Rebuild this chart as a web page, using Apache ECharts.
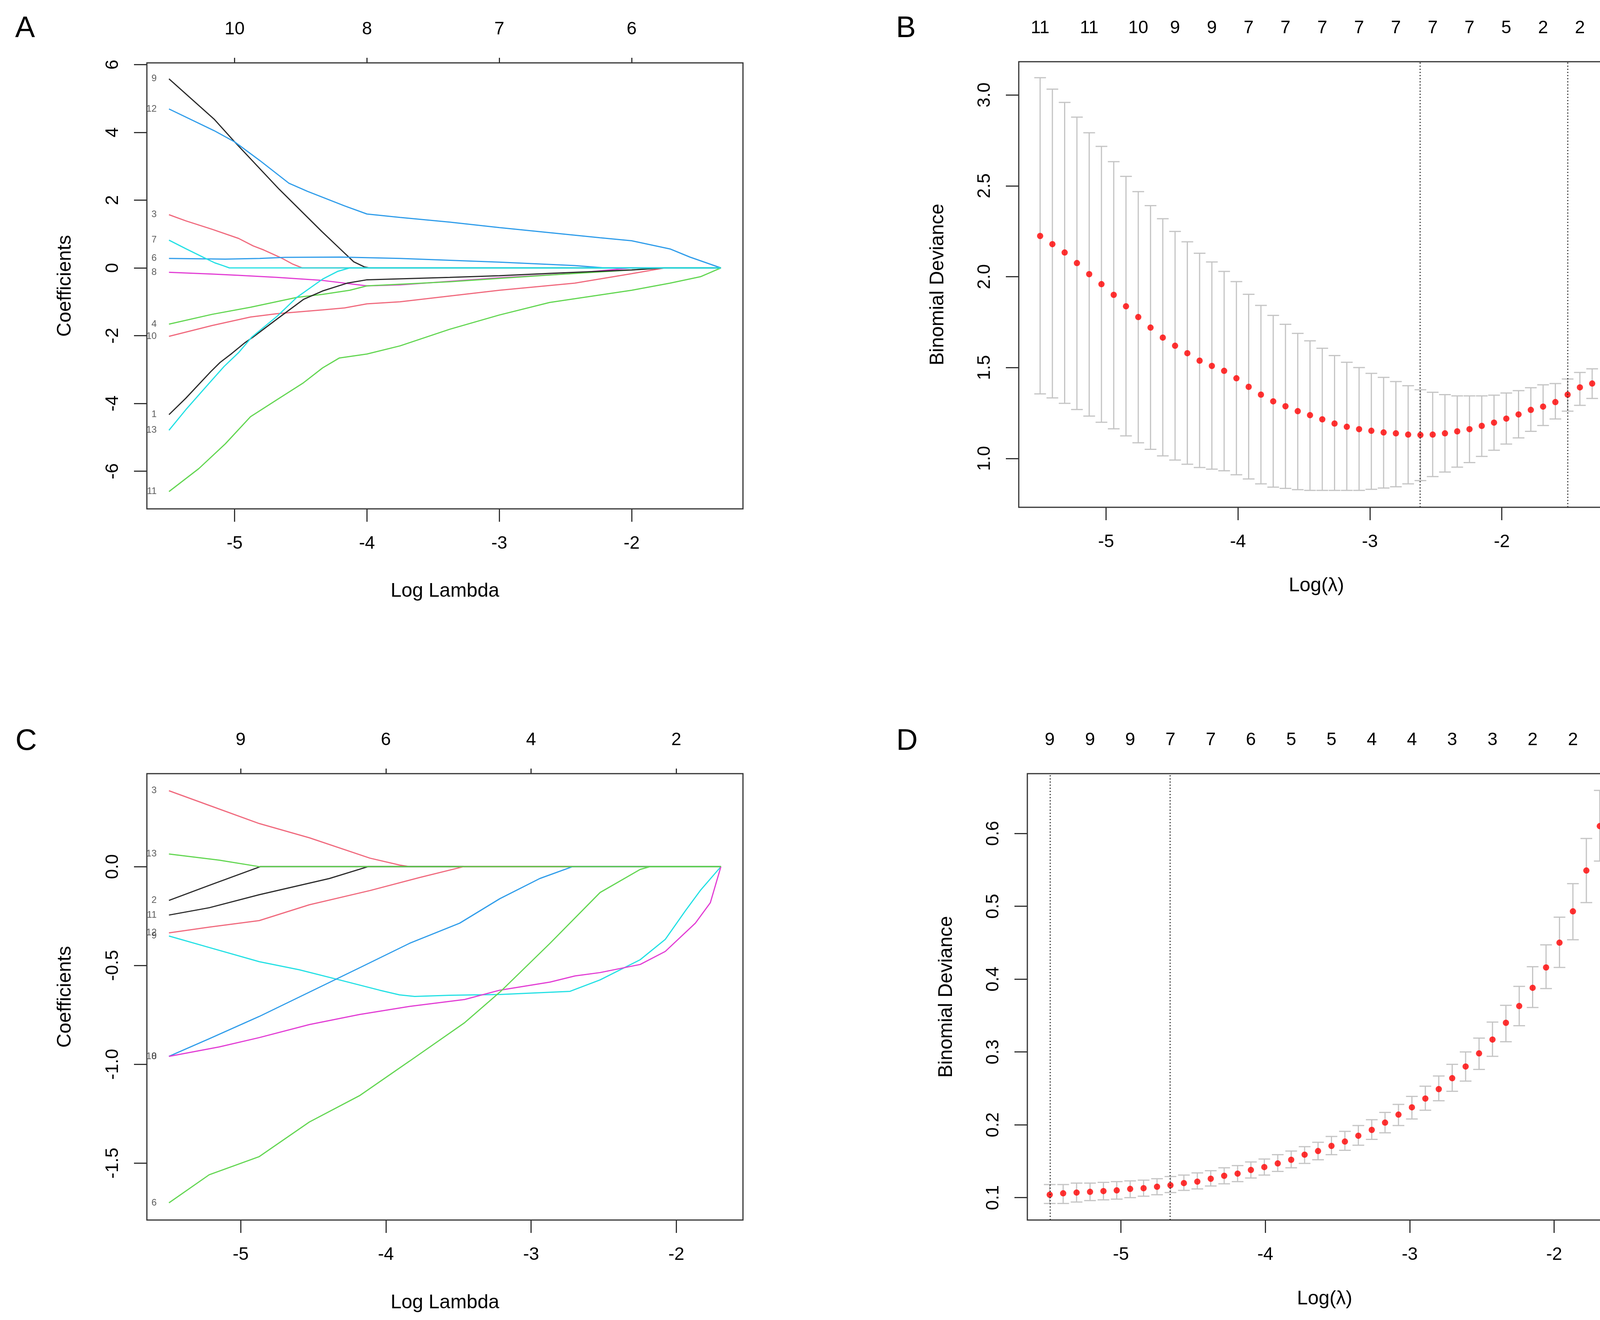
<!DOCTYPE html>
<html>
<head>
<meta charset="utf-8">
<title>LASSO</title>
<script src="https://cdn.jsdelivr.net/npm/echarts@6/dist/echarts.min.js"></script>
<style>
html, body { margin: 0; padding: 0; background: #fff; }
#main { width: 4200px; height: 3380px; }
</style>
</head>
<body>
<div id="main"></div>
<script>
// A: 系数路径 (log lambda, coef)
var a_v9  = [[-5.496,5.58],[-5.155,4.39],[-5.0,3.72],[-4.663,2.32],[-4.34,1.07],[-4.2,0.55],[-4.1,0.18],[-4.02,0.03],[-3.98,0],[-1.326,0]];
var a_v12 = [[-5.496,4.69],[-5.155,4.05],[-5.0,3.72],[-4.81,3.17],[-4.59,2.50],[-4.45,2.26],[-4.17,1.83],[-4.0,1.59],[-3.75,1.49],[-3.375,1.35],[-3.0,1.19],[-2.62,1.04],[-2.24,0.89],[-2.0,0.80],[-1.71,0.56],[-1.56,0.32],[-1.326,0]];
var a_v3  = [[-5.496,1.57],[-5.37,1.39],[-5.17,1.14],[-4.97,0.87],[-4.86,0.65],[-4.78,0.53],[-4.64,0.28],[-4.56,0.11],[-4.49,0],[-1.326,0]];
var a_v7  = [[-5.496,0.82],[-5.37,0.57],[-5.22,0.28],[-5.15,0.15],[-5.09,0.07],[-5.04,0],[-1.326,0]];
var a_v6  = [[-5.496,0.28],[-5.07,0.26],[-4.81,0.28],[-4.62,0.31],[-4.2,0.32],[-3.75,0.28],[-3.0,0.17],[-2.43,0.07],[-2.2,0],[-1.326,0]];
var a_v8  = [[-5.496,-0.13],[-5.17,-0.18],[-4.97,-0.22],[-4.68,-0.28],[-4.48,-0.33],[-4.335,-0.37],[-4.0,-0.53],[-3.75,-0.50],[-3.0,-0.29],[-2.47,-0.17],[-2.0,0],[-1.326,0]];
var a_v4  = [[-5.496,-1.66],[-5.17,-1.37],[-4.88,-1.16],[-4.53,-0.87],[-4.335,-0.78],[-4.13,-0.66],[-4.0,-0.53],[-3.375,-0.41],[-2.62,-0.21],[-2.0,-0.06],[-1.78,0],[-1.326,0]];
var a_v10 = [[-5.496,-2.02],[-5.17,-1.70],[-4.88,-1.45],[-4.68,-1.35],[-4.335,-1.24],[-4.17,-1.18],[-4.0,-1.06],[-3.75,-1.0],[-3.0,-0.66],[-2.43,-0.45],[-2.0,-0.17],[-1.75,0],[-1.326,0]];
var a_v1  = [[-5.496,-4.33],[-5.37,-3.85],[-5.18,-3.06],[-5.11,-2.79],[-5.02,-2.52],[-4.92,-2.20],[-4.86,-2.04],[-4.68,-1.51],[-4.48,-0.93],[-4.335,-0.68],[-4.15,-0.45],[-4.0,-0.35],[-3.375,-0.28],[-3.0,-0.23],[-2.62,-0.16],[-2.0,-0.06],[-1.75,0],[-1.326,0]];
var a_v13 = [[-5.496,-4.79],[-5.37,-4.19],[-5.21,-3.48],[-5.08,-2.91],[-4.97,-2.50],[-4.87,-2.04],[-4.68,-1.43],[-4.53,-0.87],[-4.335,-0.33],[-4.22,-0.1],[-4.13,0],[-1.326,0]];
var a_v11 = [[-5.496,-6.60],[-5.27,-5.92],[-5.07,-5.19],[-4.88,-4.39],[-4.68,-3.89],[-4.48,-3.39],[-4.335,-2.95],[-4.21,-2.66],[-4.0,-2.54],[-3.75,-2.30],[-3.375,-1.81],[-3.0,-1.39],[-2.62,-1.02],[-2.0,-0.66],[-1.71,-0.45],[-1.48,-0.26],[-1.326,0]];
var a_nzX = [-5, -4, -3, -2];
var a_nz  = ['10', '8', '7', '6'];

// B: 交叉验证 deviance
var b_x    = [-5.500,-5.407,-5.314,-5.221,-5.128,-5.035,-4.942,-4.849,-4.756,-4.663,-4.570,-4.477,-4.384,-4.291,-4.198,-4.105,-4.012,-3.919,-3.826,-3.733,-3.640,-3.547,-3.454,-3.361,-3.268,-3.175,-3.082,-2.989,-2.896,-2.803,-2.710,-2.617,-2.524,-2.431,-2.338,-2.245,-2.152,-2.059,-1.966,-1.873,-1.780,-1.687,-1.594,-1.501,-1.408,-1.315];
var b_mean = [2.224,2.179,2.133,2.075,2.014,1.959,1.900,1.837,1.778,1.720,1.665,1.620,1.579,1.538,1.509,1.482,1.441,1.394,1.351,1.314,1.287,1.260,1.238,1.215,1.192,1.174,1.161,1.152,1.143,1.138,1.131,1.129,1.131,1.138,1.149,1.161,1.179,1.197,1.219,1.242,1.267,1.285,1.310,1.351,1.391,1.412];
var b_up   = [3.095,3.032,2.959,2.878,2.792,2.717,2.633,2.552,2.468,2.391,2.319,2.249,2.192,2.129,2.081,2.029,1.973,1.903,1.842,1.787,1.738,1.688,1.647,1.606,1.566,1.529,1.500,1.468,1.446,1.423,1.400,1.378,1.364,1.351,1.344,1.344,1.344,1.348,1.360,1.373,1.389,1.405,1.412,1.437,1.473,1.493];
var b_lo   = [1.355,1.333,1.303,1.269,1.233,1.199,1.163,1.124,1.086,1.050,1.014,0.991,0.968,0.950,0.941,0.932,0.910,0.887,0.860,0.842,0.835,0.828,0.824,0.824,0.824,0.824,0.824,0.830,0.837,0.844,0.860,0.878,0.900,0.925,0.952,0.977,1.011,1.045,1.079,1.113,1.149,1.181,1.217,1.260,1.292,1.330];
var b_nzIdx = [0, 4, 8, 11, 14, 17, 20, 23, 26, 29, 32, 35, 38, 41, 44];
var b_nz    = ['11','11','10','9','9','7','7','7','7','7','7','7','5','2','2'];
var b_vlines = [-2.617, -1.501];

// C: 系数路径
var c_v3  = [[-5.494,0.384],[-5.217,0.310],[-4.872,0.218],[-4.527,0.146],[-4.11,0.043],[-3.906,0.008],[-3.837,0],[-1.693,0]];
var c_v2  = [[-5.494,-0.171],[-5.217,-0.095],[-5.01,-0.039],[-4.865,0],[-1.693,0]];
var c_v11 = [[-5.494,-0.245],[-5.217,-0.208],[-4.872,-0.142],[-4.389,-0.060],[-4.123,0],[-1.693,0]];
var c_v12 = [[-5.494,-0.335],[-5.217,-0.306],[-4.872,-0.273],[-4.527,-0.193],[-4.11,-0.121],[-3.768,-0.055],[-3.464,0],[-1.693,0]];
var c_v9  = [[-5.494,-0.351],[-5.217,-0.409],[-4.872,-0.481],[-4.596,-0.522],[-4.32,-0.573],[-4.044,-0.625],[-3.906,-0.649],[-3.802,-0.657],[-3.56,-0.651],[-3.215,-0.647],[-2.732,-0.631],[-2.525,-0.573],[-2.249,-0.471],[-2.076,-0.368],[-1.938,-0.224],[-1.835,-0.121],[-1.693,0]];
var c_v10 = [[-5.494,-0.960],[-5.217,-0.871],[-4.872,-0.758],[-4.527,-0.635],[-4.182,-0.512],[-3.837,-0.388],[-3.492,-0.286],[-3.215,-0.162],[-2.94,-0.060],[-2.715,0],[-1.693,0]];
var c_v8  = [[-5.494,-0.960],[-5.148,-0.912],[-4.872,-0.865],[-4.527,-0.799],[-4.182,-0.748],[-3.837,-0.707],[-3.457,-0.672],[-3.215,-0.625],[-2.87,-0.584],[-2.698,-0.553],[-2.525,-0.536],[-2.249,-0.495],[-2.076,-0.429],[-1.869,-0.286],[-1.766,-0.183],[-1.693,0]];
var c_v6  = [[-5.494,-1.701],[-5.217,-1.559],[-4.872,-1.467],[-4.527,-1.292],[-4.182,-1.159],[-3.837,-0.984],[-3.457,-0.789],[-3.215,-0.635],[-2.87,-0.388],[-2.525,-0.131],[-2.249,-0.014],[-2.18,0],[-1.693,0]];
var c_v13 = [[-5.494,0.064],[-5.148,0.033],[-4.872,0],[-1.693,0]];
var c_nzX = [-5, -4, -3, -2];
var c_nz  = ['9', '6', '4', '2'];

// D: 交叉验证 deviance
var d_x    = [-5.493,-5.400,-5.307,-5.214,-5.121,-5.029,-4.936,-4.843,-4.750,-4.657,-4.564,-4.471,-4.378,-4.285,-4.192,-4.100,-4.007,-3.914,-3.821,-3.728,-3.635,-3.542,-3.449,-3.356,-3.263,-3.171,-3.078,-2.985,-2.892,-2.799,-2.706,-2.613,-2.520,-2.427,-2.334,-2.242,-2.149,-2.056,-1.963,-1.870,-1.777,-1.684];
var d_mean = [0.104,0.106,0.107,0.108,0.109,0.110,0.112,0.113,0.115,0.117,0.120,0.122,0.126,0.130,0.133,0.138,0.142,0.147,0.152,0.159,0.164,0.171,0.177,0.185,0.193,0.203,0.214,0.224,0.236,0.249,0.264,0.280,0.298,0.317,0.340,0.363,0.388,0.416,0.450,0.493,0.549,0.610];
var d_up   = [0.118,0.118,0.120,0.120,0.121,0.122,0.123,0.124,0.126,0.129,0.131,0.134,0.137,0.141,0.144,0.149,0.153,0.159,0.164,0.170,0.176,0.184,0.191,0.199,0.207,0.217,0.228,0.239,0.253,0.267,0.283,0.300,0.319,0.341,0.364,0.390,0.417,0.447,0.485,0.531,0.593,0.659];
var d_lo   = [0.092,0.092,0.094,0.096,0.097,0.098,0.100,0.102,0.104,0.107,0.110,0.112,0.116,0.119,0.122,0.127,0.131,0.136,0.141,0.147,0.152,0.159,0.165,0.172,0.180,0.189,0.199,0.208,0.220,0.233,0.246,0.260,0.276,0.294,0.314,0.336,0.361,0.387,0.416,0.454,0.505,0.562];
var d_nzIdx = [0, 3, 6, 9, 12, 15, 18, 21, 24, 27, 30, 33, 36, 39];
var d_nz    = ['9','9','9','7','7','6','5','5','4','4','3','3','2','2'];
var d_vlines = [-5.493, -4.657];

var FONT = "'Liberation Sans', Arial, sans-serif";
var C_BLACK = '#2a2a2a', C_PINK = '#F0697D', C_GREEN = '#62D651', C_BLUE = '#2E9CEA', C_CYAN = '#22E0E4', C_MAG = '#E23CD4';

// 画线顺序: 后画的在上面
var a_lines = [
    {name: '9', data: a_v9, color: C_BLACK},
    {name: '12', data: a_v12, color: C_BLUE},
    {name: '3', data: a_v3, color: C_PINK},
    {name: '6', data: a_v6, color: C_BLUE},
    {name: '8', data: a_v8, color: C_MAG},
    {name: '4', data: a_v4, color: C_GREEN},
    {name: '10', data: a_v10, color: C_PINK},
    {name: '1', data: a_v1, color: C_BLACK},
    {name: '11', data: a_v11, color: C_GREEN},
    {name: '13', data: a_v13, color: C_CYAN},
    {name: '7', data: a_v7, color: C_CYAN}
];
var c_lines = [
    {name: '3', data: c_v3, color: C_PINK},
    {name: '2', data: c_v2, color: C_BLACK},
    {name: '11', data: c_v11, color: C_BLACK},
    {name: '12', data: c_v12, color: C_PINK},
    {name: '9', data: c_v9, color: C_CYAN},
    {name: '10', data: c_v10, color: C_BLUE},
    {name: '8', data: c_v8, color: C_MAG},
    {name: '6', data: c_v6, color: C_GREEN},
    {name: '13', data: c_v13, color: C_GREEN}
];

var grids = [
    {left: 376, top: 161, width: 1526, height: 1142},
    {left: 2608, top: 158, width: 1524, height: 1141},
    {left: 376, top: 1981, width: 1526, height: 1143},
    {left: 2630, top: 1981, width: 1522, height: 1143}
];
grids.forEach(function (g) {
    g.show = true;
    g.borderColor = '#333';
    g.borderWidth = 3;
    g.backgroundColor = 'transparent';
    g.containLabel = false;
});

function bottomAxis(gi, min, max, name, gap) {
    return {
        type: 'value', gridIndex: gi, position: 'bottom', min: min, max: max,
        name: name, nameLocation: 'middle', nameGap: gap,
        nameTextStyle: {fontFamily: FONT, fontSize: 50, color: '#000'},
        axisLine: {show: false, onZero: false},
        axisTick: {show: true, length: 33, lineStyle: {color: '#333', width: 3}, customValues: [-5, -4, -3, -2]},
        axisLabel: {fontFamily: FONT, fontSize: 46, color: '#000', margin: 66, customValues: [-5, -4, -3, -2],
            formatter: function (v) { return String(v); }},
        splitLine: {show: false}
    };
}

function topAxis(gi, min, max, vals, labels, tickLen) {
    return {
        type: 'value', gridIndex: gi, position: 'top', min: min, max: max,
        axisLine: {show: false, onZero: false},
        axisTick: {show: tickLen > 0, length: tickLen, lineStyle: {color: '#333', width: 3}, customValues: vals},
        axisLabel: {fontFamily: FONT, fontSize: 46, color: '#000', margin: 63, customValues: vals,
            formatter: function (v) {
                var best = 0;
                for (var i = 1; i < vals.length; i++) {
                    if (Math.abs(vals[i] - v) < Math.abs(vals[best] - v)) best = i;
                }
                return labels[best];
            }},
        splitLine: {show: false}
    };
}

function leftAxis(gi, min, max, ticks, digits, name, gap) {
    return {
        type: 'value', gridIndex: gi, min: min, max: max,
        name: name, nameLocation: 'middle', nameGap: gap, nameRotate: 90,
        nameTextStyle: {fontFamily: FONT, fontSize: 50, color: '#000'},
        axisLine: {show: false, onZero: false},
        axisTick: {show: true, length: 33, lineStyle: {color: '#333', width: 3}, customValues: ticks},
        axisLabel: {fontFamily: FONT, fontSize: 46, color: '#000', margin: 64, rotate: 90, customValues: ticks,
            formatter: function (v) { return v.toFixed(digits); }},
        splitLine: {show: false}
    };
}

function nzValues(xs, idx) {
    return idx.map(function (i) { return xs[i]; });
}

var xAxes = [
    bottomAxis(0, -5.663, -1.159, 'Log Lambda', 186),
    topAxis(0, -5.663, -1.159, a_nzX, a_nz, 13),
    bottomAxis(1, -5.662, -1.149, 'Log(\u03bb)', 176),
    topAxis(1, -5.662, -1.149, nzValues(b_x, b_nzIdx), b_nz, 0),
    bottomAxis(2, -5.646, -1.541, 'Log Lambda', 187),
    topAxis(2, -5.646, -1.541, c_nzX, c_nz, 13),
    bottomAxis(3, -5.648, -1.531, 'Log(\u03bb)', 177),
    topAxis(3, -5.648, -1.531, nzValues(d_x, d_nzIdx), d_nz, 0)
];

var yAxes = [
    leftAxis(0, -7.11, 6.05, [-6, -4, -2, 0, 2, 4, 6], 0, 'Coefficients', 184),
    leftAxis(1, 0.731, 3.183, [1.0, 1.5, 2.0, 2.5, 3.0], 1, 'Binomial Deviance', 182),
    leftAxis(2, -1.788, 0.4705, [-1.5, -1.0, -0.5, 0.0], 1, 'Coefficients', 184),
    leftAxis(3, 0.0693, 0.682, [0.1, 0.2, 0.3, 0.4, 0.5, 0.6], 1, 'Binomial Deviance', 182)
];

var series = [];

function addPaths(lines, xi, yi) {
    lines.forEach(function (ln) {
        series.push({
            type: 'line', xAxisIndex: xi, yAxisIndex: yi, data: ln.data,
            showSymbol: false, silent: true, z: 3,
            lineStyle: {color: ln.color, width: 3}
        });
    });
    // 左侧变量编号
    series.push({
        type: 'scatter', xAxisIndex: xi, yAxisIndex: yi, silent: true, z: 4,
        symbolSize: 1, itemStyle: {color: 'rgba(0,0,0,0)'},
        data: lines.map(function (ln) { return {name: ln.name, value: ln.data[0]}; }),
        label: {show: true, position: 'left', distance: 31, formatter: '{b}',
            fontFamily: FONT, fontSize: 24, color: '#333'}
    });
}

function addCv(xs, mean, lo, up, vlines, xi, yi) {
    series.push({
        type: 'custom', xAxisIndex: xi, yAxisIndex: yi, silent: true, z: 2,
        data: xs.map(function (x, i) { return [x, lo[i], up[i]]; }),
        encode: {x: 0, y: [1, 2]},
        renderItem: function (params, api) {
            var p1 = api.coord([api.value(0), api.value(1)]);
            var p2 = api.coord([api.value(0), api.value(2)]);
            var w = 15;
            var st = {stroke: '#C4C4C4', lineWidth: 3};
            return {
                type: 'group',
                children: [
                    {type: 'line', shape: {x1: p1[0], y1: p1[1], x2: p2[0], y2: p2[1]}, style: st},
                    {type: 'line', shape: {x1: p2[0] - w, y1: p2[1], x2: p2[0] + w, y2: p2[1]}, style: st},
                    {type: 'line', shape: {x1: p1[0] - w, y1: p1[1], x2: p1[0] + w, y2: p1[1]}, style: st}
                ]
            };
        }
    });
    series.push({
        type: 'scatter', xAxisIndex: xi, yAxisIndex: yi, silent: true, z: 4,
        data: xs.map(function (x, i) { return [x, mean[i]]; }),
        symbolSize: 16, itemStyle: {color: '#FF0000'},
        markLine: {
            silent: true, symbol: ['none', 'none'], label: {show: false},
            lineStyle: {color: '#222', width: 2.5, type: [3, 5]},
            data: vlines.map(function (v) { return {xAxis: v}; })
        }
    });
}

addPaths(a_lines, 0, 0);
addCv(b_x, b_mean, b_lo, b_up, b_vlines, 2, 1);
addPaths(c_lines, 4, 2);
addCv(d_x, d_mean, d_lo, d_up, d_vlines, 6, 3);

var letters = [
    {t: 'A', x: 64, y: 74},
    {t: 'B', x: 2319, y: 74},
    {t: 'C', x: 67, y: 1899},
    {t: 'D', x: 2322, y: 1899}
];

var myChart = echarts.init(document.getElementById('main'));
myChart.setOption({
    backgroundColor: '#fff',
    animation: false,
    grid: grids,
    xAxis: xAxes,
    yAxis: yAxes,
    series: series,
    graphic: letters.map(function (l) {
        return {
            type: 'text', x: l.x, y: l.y,
            style: {text: l.t, fontFamily: FONT, fontSize: 76, fill: '#000', align: 'center', verticalAlign: 'middle'}
        };
    })
});
</script>
</body>
</html>
